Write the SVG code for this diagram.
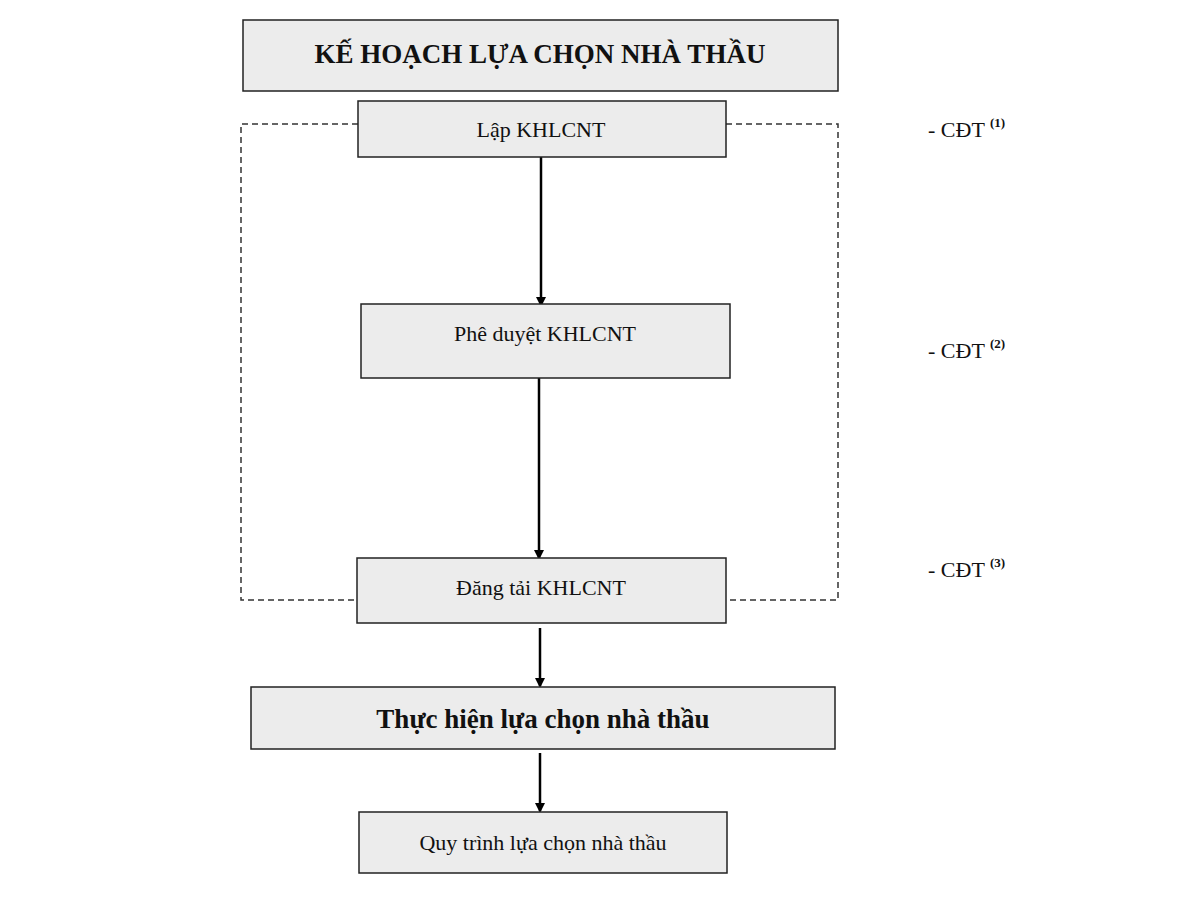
<svg xmlns="http://www.w3.org/2000/svg" width="1200" height="900" viewBox="0 0 1200 900">
<defs>
<style>
.box{fill:#ececec;stroke:#222;stroke-width:1.5}
.t{font-family:"Liberation Serif",serif;font-size:22px;text-anchor:middle;fill:#111}
.b{font-weight:bold;font-size:27px}
.dash{fill:none;stroke:#333;stroke-width:1.5;stroke-dasharray:6 4}
.l{font-family:"Liberation Serif",serif;font-size:22px;fill:#111}
.sup{font-size:13px;font-weight:bold}
.ar{stroke:#000;stroke-width:2.5;fill:none;marker-end:url(#ah)}
</style>
<marker id="ah" markerWidth="10" markerHeight="10" refX="8" refY="5" orient="auto" markerUnits="userSpaceOnUse" viewBox="0 0 10 10"><path d="M0,0 L10,5 L0,10 z" fill="#000"/></marker>
</defs>
<rect width="1200" height="900" fill="#fff"/>
<g id="frame">
<path class="dash" d="M358,124 H241 V600 H357 M726,124 H838 V600 H726"/>
</g>
<g id="connectors">
<line class="ar" x1="541" y1="157" x2="541" y2="305"/>
<line class="ar" x1="539" y1="378" x2="539" y2="558"/>
<line class="ar" x1="540" y1="628" x2="540" y2="686"/>
<line class="ar" x1="540" y1="753" x2="540" y2="811"/>
</g>
<g id="title"><rect class="box" x="243" y="20" width="595" height="71"/><text class="t b" x="540" y="63">KẾ HOẠCH LỰA CHỌN NHÀ THẦU</text></g>
<g id="lap"><rect class="box" x="358" y="101" width="368" height="56"/><text class="t" x="541" y="137">Lập KHLCNT</text></g>
<g id="pheduyet"><rect class="box" x="361" y="304" width="369" height="74"/><text class="t" x="545" y="341">Phê duyệt KHLCNT</text></g>
<g id="dangtai"><rect class="box" x="357" y="558" width="369" height="65"/><text class="t" x="541" y="595">Đăng tải KHLCNT</text></g>
<g id="thuchien"><rect class="box" x="251" y="687" width="584" height="62"/><text class="t b" x="543" y="728">Thực hiện lựa chọn nhà thầu</text></g>
<g id="quytrinh"><rect class="box" x="359" y="812" width="368" height="61"/><text class="t" x="543" y="850">Quy trình lựa chọn nhà thầu</text></g>
<g id="labels">
<text class="l" x="928" y="137">- CĐT <tspan class="sup" dy="-10">(1)</tspan></text>
<text class="l" x="928" y="358">- CĐT <tspan class="sup" dy="-10">(2)</tspan></text>
<text class="l" x="928" y="577">- CĐT <tspan class="sup" dy="-10">(3)</tspan></text>
</g>
</svg>
